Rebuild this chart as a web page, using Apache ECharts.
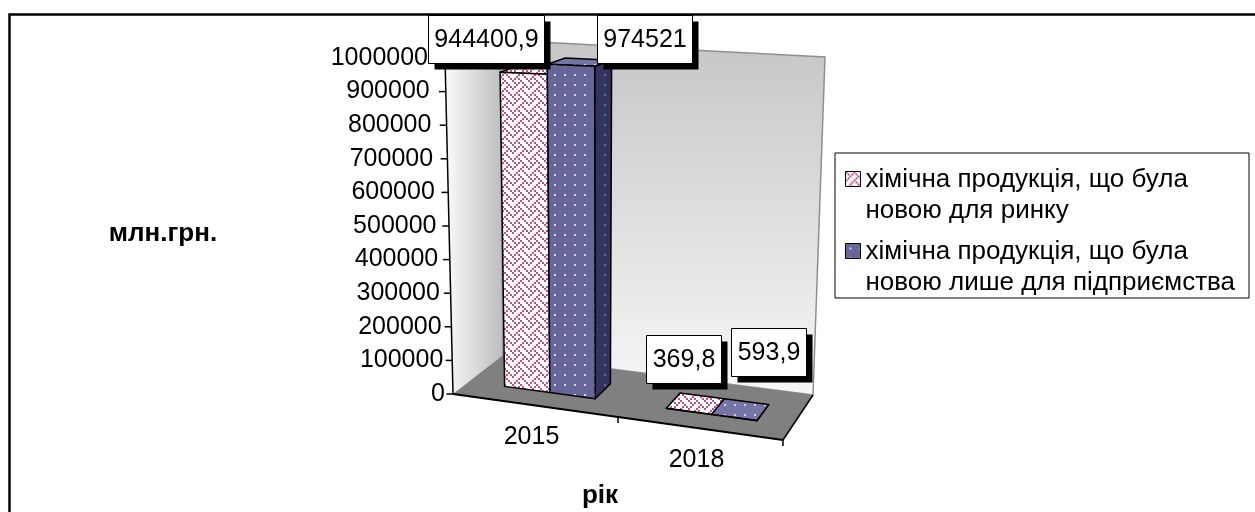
<!DOCTYPE html>
<html>
<head>
<meta charset="utf-8">
<script src="https://cdn.jsdelivr.net/npm/echarts@6/dist/echarts.min.js"></script>
<style>
  html, body { margin: 0; padding: 0; background: #ffffff; }
  #chart { width: 1255px; height: 512px; }
</style>
</head>
<body>
<div id="chart"></div>
<script>
// ---- data -------------------------------------------------------------
const years = ['2015', '2018'];
const newForMarket = [944400.9, 369.8];        // млн.грн.
const newForEnterprise = [974521, 593.9];      // млн.грн.
const valueTicks = [0, 100000, 200000, 300000, 400000, 500000,
                    600000, 700000, 800000, 900000, 1000000];
const valueTickLabels = ['0', '100000', '200000', '300000', '400000', '500000',
                         '600000', '700000', '800000', '900000', '1000000'];
const seriesNames = [
  'хімічна продукція, що була новою для ринку',
  'хімічна продукція, що була новою лише для підприємства'
];
const yTitle = 'млн.грн.';
const xTitle = 'рік';

// ---- look -------------------------------------------------------------
const FONT = '"Liberation Sans", Arial, Helvetica, sans-serif';
const FS = 25;          // numbers
const FS_LEGEND = 26;   // legend and axis titles

// corners of the 3-D box, as offsets from the plot rectangle
// (u: along categories, v: value, w: depth towards the back)
const BOX = {
  c000: [0, 0],   c100: [0, 46],  c001: [50, -39], c101: [30, 1],
  c010: [-8, 0],  c110: [7, 12],  c011: [47, -18], c111: [42, -1]
};
const BAR = { widthRatio: 0.28, w0: 0.32, w1: 0.68 };
// data label box centres, relative to the centre of each bar top
const LABEL_SHIFT = [
  [[-47, -31], [-12, -45]],
  [[65, -23], [28, -58]]
];

function makePattern(w, h, draw) {
  const c = document.createElement('canvas');
  c.width = w; c.height = h;
  draw(c.getContext('2d'), w, h);
  return { image: c, repeat: 'repeat' };
}
// 8x8 "weave" hatch, scaled up
const WEAVE = [0x88, 0x54, 0x22, 0x45, 0x88, 0x14, 0x22, 0x51];
function weave(ink, s) {
  return makePattern(8 * s, 8 * s, (ctx, w, h) => {
    ctx.fillStyle = '#ffffff';
    ctx.fillRect(0, 0, w, h);
    ctx.fillStyle = ink;
    WEAVE.forEach((row, r) => {
      for (let c = 0; c < 8; c++) {
        if (row & (0x80 >> c)) ctx.fillRect(c * s, r * s, s, s);
      }
    });
  });
}
function dots(base, dot) {
  return makePattern(10, 10, (ctx, w, h) => {
    ctx.fillStyle = base;
    ctx.fillRect(0, 0, w, h);
    ctx.fillStyle = dot;
    ctx.fillRect(4, 4, 2, 2);
  });
}
const FILLS = [
  { front: weave('#c0508a', 2), side: weave('#9c3e70', 2), top: weave('#c0508a', 2) },
  { front: dots('#666699', '#d6d6ee'), side: dots('#333360', '#6c6c98'), top: dots('#7474a6', '#d0d0ea') }
];

const measure = document.createElement('canvas').getContext('2d');
function textWidth(t, size) {
  measure.font = size + 'px ' + FONT;
  return measure.measureText(t).width;
}

function projector(rect) {
  const L = rect.x, B = rect.y + rect.height, R = rect.x + rect.width, T = rect.y;
  const at = (base, off) => [base[0] + off[0], base[1] + off[1]];
  const c000 = at([L, B], BOX.c000), c100 = at([R, B], BOX.c100);
  const c001 = at([L, B], BOX.c001), c101 = at([R, B], BOX.c101);
  const c010 = at([L, T], BOX.c010), c110 = at([R, T], BOX.c110);
  const c011 = at([L, T], BOX.c011), c111 = at([R, T], BOX.c111);
  const lerp = (a, b, t) => [a[0] + (b[0] - a[0]) * t, a[1] + (b[1] - a[1]) * t];
  return function (u, v, w) {
    const bottom = lerp(lerp(c000, c100, u), lerp(c001, c101, u), w);
    const top = lerp(lerp(c010, c110, u), lerp(c011, c111, u), w);
    return lerp(bottom, top, v);
  };
}
function toUV(rect, pt) {
  return [(pt[0] - rect.x) / rect.width, (rect.y + rect.height - pt[1]) / rect.height];
}

// ---- walls, floor and axes -------------------------------------------
function renderFrame(params, api) {
  const rect = params.coordSys;
  const P = projector(rect);
  const kids = [];
  const poly = (pts, style) => kids.push({ type: 'polygon', shape: { points: pts }, style: style });
  const line = (a, b, color, width) => kids.push({
    type: 'line', shape: { x1: a[0], y1: a[1], x2: b[0], y2: b[1] },
    style: { stroke: color, lineWidth: width }
  });
  const text = (str, x, y, align) => kids.push({
    type: 'text',
    style: { text: str, x: x, y: y, align: align, verticalAlign: 'middle',
             fontSize: FS, fontFamily: FONT, fill: '#000' }
  });

  // side wall
  poly([P(0, 0, 0), P(0, 0, 1), P(0, 1, 1), P(0, 1, 0)], {
    fill: new echarts.graphic.LinearGradient(0, 0, 1, 0, [
      { offset: 0, color: '#fbfbfb' }, { offset: 1, color: '#bdbdbd' }])
  });
  // back wall
  poly([P(0, 0, 1), P(1, 0, 1), P(1, 1, 1), P(0, 1, 1)], {
    fill: new echarts.graphic.LinearGradient(0, 0, 0, 1, [
      { offset: 0, color: '#c6c6c6' }, { offset: 1, color: '#f7f7f7' }]),
    stroke: '#8f8f8f', lineWidth: 1.5
  });
  // floor
  poly([P(0, 0, 0), P(1, 0, 0), P(1, 0, 1), P(0, 0, 1)], { fill: '#808080' });
  line(P(1, 0, 0), P(1, 0, 1), '#000', 1.5);
  line(P(0, 0, 0), P(1, 0, 0), '#000', 2);

  // category axis: ticks between categories and category names
  const uCenters = years.map((y, i) => toUV(rect, api.coord([i, 0]))[0]);
  const halfBand = api.size([1, 0])[0] / rect.width / 2;
  uCenters.forEach((uc, i) => {
    const b = P(uc + halfBand, 0, 0);
    line(b, [b[0], b[1] + 6], '#000', 1.5);
    const a = P(uc, 0, 0);
    text(years[i], a[0] - 4, a[1] + 32, 'center');
  });

  // value axis
  line(P(0, 0, 0), P(0, 1, 0), '#000', 1.5);
  valueTicks.forEach((t, i) => {
    const v = toUV(rect, api.coord([0, t]))[1];
    const a = P(0, v, 0), b = P(-0.02, v, 0);
    line(a, [b[0], a[1]], '#000', 1.5);
    text(valueTickLabels[i], a[0] - 8 - 9 * v, a[1], 'right');
  });
  return { type: 'group', children: kids };
}

// ---- 3-D columns -------------------------------------------------------
function barGeometry(k, params, api) {
  const rect = params.coordSys;
  const P = projector(rect);
  const uv = toUV(rect, api.coord([api.value(0), api.value(1)]));
  const bw = api.size([1, 0])[0] / rect.width * BAR.widthRatio;
  const u0 = uv[0] + (k - 1) * bw, u1 = u0 + bw;
  return { P: P, u0: u0, u1: u1, v: uv[1] };
}
function renderBar(k) {
  return function (params, api) {
    const g = barGeometry(k, params, api);
    const P = g.P, u0 = g.u0, u1 = g.u1, v = g.v, w0 = BAR.w0, w1 = BAR.w1;
    const edge = { stroke: '#000', lineWidth: 1.5, lineJoin: 'round' };
    const face = (pts, fill) => ({ type: 'polygon', shape: { points: pts },
                                   style: Object.assign({ fill: fill }, edge) });
    return {
      type: 'group',
      children: [
        face([P(u1, 0, w0), P(u1, 0, w1), P(u1, v, w1), P(u1, v, w0)], FILLS[k].side),
        face([P(u0, v, w0), P(u1, v, w0), P(u1, v, w1), P(u0, v, w1)], FILLS[k].top),
        face([P(u0, 0, w0), P(u1, 0, w0), P(u1, v, w0), P(u0, v, w0)], FILLS[k].front)
      ]
    };
  };
}

// ---- value labels -----------------------------------------------------
function renderLabel(k) {
  return function (params, api) {
    const g = barGeometry(k, params, api);
    const anchor = g.P((g.u0 + g.u1) / 2, g.v, 0.5);
    const shift = LABEL_SHIFT[k][params.dataIndex];
    const str = String(api.value(1)).replace('.', ',');
    const w = Math.round(textWidth(str, FS) + 12), h = 48;
    const cx = anchor[0] + shift[0], cy = anchor[1] + shift[1];
    const x = Math.round(cx - w / 2) + 0.5, y = Math.round(cy - h / 2) + 0.5;
    return {
      type: 'group',
      children: [
        { type: 'rect', shape: { x: x + 6, y: y + 6, width: w, height: h }, style: { fill: '#000' } },
        { type: 'rect', shape: { x: x, y: y, width: w, height: h },
          style: { fill: '#fff', stroke: '#000', lineWidth: 1 } },
        { type: 'text', style: { text: str, x: x + w / 2, y: y + h / 2 + 1, align: 'center',
          verticalAlign: 'middle', fontSize: FS, fontFamily: FONT, fill: '#000' } }
      ]
    };
  };
}

const valueSets = [newForMarket, newForEnterprise];
const toData = vals => years.map((y, i) => [i, vals[i]]);

const series = [{
  type: 'custom', name: 'frame', renderItem: renderFrame, data: [[0, 0]],
  encode: { x: 0, y: 1 }, silent: true, z: 1
}];
valueSets.forEach((vals, k) => series.push({
  type: 'custom', name: seriesNames[k], renderItem: renderBar(k), data: toData(vals),
  encode: { x: 0, y: 1 }, itemStyle: { color: FILLS[k].front }, z: 2
}));
valueSets.forEach((vals, k) => series.push({
  type: 'custom', name: seriesNames[k], renderItem: renderLabel(k), data: toData(vals),
  encode: { x: 0, y: 1 }, itemStyle: { color: FILLS[k].front }, z: 3
}));

const chart = echarts.init(document.getElementById('chart'), null, { renderer: 'canvas' });
chart.setOption({
  animation: false,
  backgroundColor: '#ffffff',
  grid: { left: 453, top: 58, width: 330, height: 336, containLabel: false },
  xAxis: { type: 'category', data: years, show: false },
  yAxis: { type: 'value', min: 0, max: 1000000, interval: 100000, show: false },
  legend: {
    data: seriesNames,
    orient: 'vertical', left: 835, top: 153,
    padding: [11, 14, 0, 10], itemGap: 10,
    itemWidth: 15, itemHeight: 47,
    icon: 'path://M0,0L15,0L15,15L0,15Z M0,47',
    itemStyle: { borderColor: '#000', borderWidth: 1 },
    borderColor: '#000', borderWidth: 1, backgroundColor: '#fff',
    selectedMode: false,
    formatter: name => name.replace('була ', 'була\n'),
    textStyle: { fontSize: FS_LEGEND, lineHeight: 31, fontFamily: FONT, color: '#000' }
  },
  graphic: [
    { type: 'rect', silent: true, z: 10,
      shape: { x: 9.5, y: 14.5, width: 1300, height: 600 },
      style: { fill: 'none', stroke: '#000', lineWidth: 2.5 } },
    { type: 'text', silent: true, x: 163, y: 234,
      style: { text: yTitle, align: 'center', verticalAlign: 'middle',
               fontSize: FS_LEGEND, fontWeight: 'bold', fontFamily: FONT, fill: '#000' } },
    { type: 'text', silent: true, x: 600, y: 496,
      style: { text: xTitle, align: 'center', verticalAlign: 'middle',
               fontSize: FS_LEGEND, fontWeight: 'bold', fontFamily: FONT, fill: '#000' } }
  ],
  series: series
});
</script>
</body>
</html>
